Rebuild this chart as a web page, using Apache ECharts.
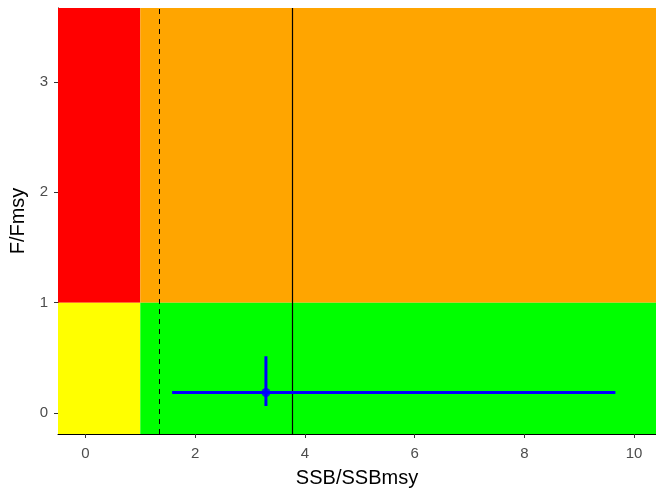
<!DOCTYPE html>
<html><head><meta charset="utf-8">
<script src="https://cdn.jsdelivr.net/npm/echarts@6/dist/echarts.min.js"></script>
<style>html,body{margin:0;padding:0;background:#fff}#c{width:656px;height:493px}</style>
</head><body><div id="c"></div>
<script>
var xRange = [-0.5, 10.4];
var yRange = [-0.19, 3.67];
var xTicks = [0, 2, 4, 6, 8, 10];
var yTicks = [0, 1, 2, 3];
var bLim = 1;          // SSB/SSBmsy boundary between zones
var fLim = 1;          // F/Fmsy boundary between zones
var dashedX = 1.35;    // dashed reference line
var solidX = 3.77;     // solid reference line
var pointX = 3.29, pointY = 0.186;
var ssbCI = [1.58, 9.66];
var fCI = [0.063, 0.514];

var chart = echarts.init(document.getElementById('c'), null, {renderer: 'canvas'});
var font = 'Liberation Sans, Arial, sans-serif';
chart.setOption({
  animation: false,
  grid: {left: 58, right: 0, top: 8, bottom: 54, containLabel: false},
  xAxis: {
    type: 'value', min: xRange[0], max: xRange[1],
    name: 'SSB/SSBmsy', nameLocation: 'middle', nameGap: 34,
    nameTextStyle: {color: '#000', fontSize: 20, fontFamily: font},
    axisLine: {show: true, onZero: false, lineStyle: {color: '#000', width: 1}},
    axisTick: {show: true, length: 4, lineStyle: {color: '#333'}, customValues: xTicks},
    axisLabel: {color: '#4d4d4d', fontSize: 15, fontFamily: font, margin: 12, customValues: xTicks},
    splitLine: {show: false}
  },
  yAxis: {
    type: 'value', min: yRange[0], max: yRange[1],
    name: 'F/Fmsy', nameLocation: 'middle', nameGap: 30,
    nameTextStyle: {color: '#000', fontSize: 20, fontFamily: font},
    axisLine: {show: true, onZero: false, lineStyle: {color: '#000', width: 1}},
    axisTick: {show: true, length: 4, lineStyle: {color: '#333'}, customValues: yTicks},
    axisLabel: {color: '#4d4d4d', fontSize: 15, fontFamily: font, margin: 10, customValues: yTicks},
    splitLine: {show: false}
  },
  series: [
    {
      type: 'line', data: [], silent: true,
      markArea: {
        silent: true,
        data: [
          [{coord: [xRange[0], fLim], itemStyle: {color: '#ff0000'}}, {coord: [bLim, yRange[1]]}],
          [{coord: [xRange[0], yRange[0]], itemStyle: {color: '#ffff00'}}, {coord: [bLim, fLim]}],
          [{coord: [bLim, fLim], itemStyle: {color: '#ffa500'}}, {coord: [xRange[1], yRange[1]]}],
          [{coord: [bLim, yRange[0]], itemStyle: {color: '#00ff00'}}, {coord: [xRange[1], fLim]}]
        ]
      },
      markLine: {
        silent: true, symbol: ['none', 'none'], label: {show: false},
        data: [
          {xAxis: dashedX, lineStyle: {color: '#000', width: 1, type: [5, 5]}},
          {xAxis: solidX, lineStyle: {color: '#000', width: 1.2, type: 'solid'}}
        ]
      }
    },
    {
      type: 'line', data: [[ssbCI[0], pointY], [ssbCI[1], pointY]],
      symbol: 'none', lineStyle: {color: '#0000ff', width: 3}, z: 5
    },
    {
      type: 'line', data: [[pointX, fCI[0]], [pointX, fCI[1]]],
      symbol: 'none', lineStyle: {color: '#0000ff', width: 3}, z: 5
    },
    {
      type: 'scatter', data: [[pointX, pointY]], symbolSize: 9,
      itemStyle: {color: '#0000ff'}, z: 6
    }
  ]
});
</script></body></html>
